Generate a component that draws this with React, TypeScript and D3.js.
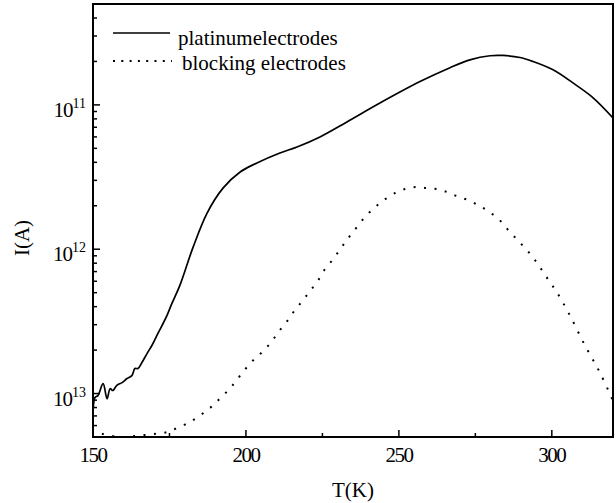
import React from "react";
import * as d3 from "d3";

const platinumT = [150, 150.65, 151.6, 153.3, 154.6, 155.6, 156.5, 157.8, 159.5, 161.1, 162.7, 163.7, 164.7, 166.0, 167.7, 169.3, 170.9, 172.6, 174.2, 175.8, 178.4, 182.7, 187.3, 192.5, 198.1, 203.6, 211.1, 216.7, 224.2, 233.0, 243.8, 256.9, 266.7, 273.2, 279.8, 284.0, 289.6, 293.8, 300.4, 306.9, 313.5, 320];
const platinumI = [7.03e-14, 9.38e-14, 9.68e-14, 1.17e-13, 9.2e-14, 1.08e-13, 1.05e-13, 1.14e-13, 1.19e-13, 1.27e-13, 1.33e-13, 1.49e-13, 1.49e-13, 1.64e-13, 1.9e-13, 2.16e-13, 2.53e-13, 2.97e-13, 3.48e-13, 4.21e-13, 5.62e-13, 1.03e-12, 1.78e-12, 2.65e-12, 3.43e-12, 3.96e-12, 4.64e-12, 5.11e-12, 6.0e-12, 7.62e-12, 1.03e-11, 1.45e-11, 1.81e-11, 2.05e-11, 2.19e-11, 2.2e-11, 2.13e-11, 2.0e-11, 1.75e-11, 1.42e-11, 1.12e-11, 8.12e-12];

const blockingT = [152.9, 157.8, 161.4, 164.7, 168.0, 170.9, 173.5, 175.5, 177.8, 180.7, 183.0, 186.3, 189.2, 191.8, 194.5, 197.1, 199.7, 202.6, 205.2, 208.2, 210.5, 213.4, 215.7, 218.3, 220.9, 223.6, 225.8, 228.5, 231.1, 233.4, 236.0, 238.9, 241.9, 245.1, 248.7, 252.0, 255.6, 258.9, 262.5, 265.7, 269.0, 272.6, 275.9, 279.1, 282.7, 285.7, 288.9, 291.9, 294.5, 296.8, 299.4, 301.7, 305.9, 310.8, 315.7, 320];
const blockingI = [5.27e-14, 5.02e-14, 5.02e-14, 5.11e-14, 5.19e-14, 5.27e-14, 5.36e-14, 5.53e-14, 5.81e-14, 6.19e-14, 6.6e-14, 7.38e-14, 8.26e-14, 9.38e-14, 1.07e-13, 1.25e-13, 1.47e-13, 1.72e-13, 1.93e-13, 2.26e-13, 2.65e-13, 3.16e-13, 3.71e-13, 4.35e-13, 5.11e-13, 6.09e-13, 7.26e-13, 8.53e-13, 1.02e-12, 1.19e-12, 1.4e-12, 1.67e-12, 1.93e-12, 2.19e-12, 2.45e-12, 2.61e-12, 2.7e-12, 2.65e-12, 2.61e-12, 2.49e-12, 2.33e-12, 2.19e-12, 2.02e-12, 1.84e-12, 1.61e-12, 1.36e-12, 1.15e-12, 9.84e-13, 8.39e-13, 7.15e-13, 5.9e-13, 5.02e-13, 3.48e-13, 2.16e-13, 1.4e-13, 8.93e-14];

const xTicks = [150, 200, 250, 300];
const xMinorTicks = [175, 225, 275];
const yTicks = [1e-11, 1e-12, 1e-13];
const yTickExponents = ["11", "12", "13"];
const legendLabels = ["platinumelectrodes", "blocking electrodes"];

const W = 616, H = 503;
const L = 93, R = 613, T = 4, B = 437;
const FONT = "Liberation Serif, serif";

export default function App() {
  const x = d3.scaleLinear().domain([150, 320]).range([L, R]);
  const y = d3.scaleLog().domain([5e-14, 5e-11]).range([B, T]);

  const line = d3
    .line<[number, number]>()
    .x((d) => x(d[0]))
    .y((d) => y(d[1]))
    .curve(d3.curveCatmullRom.alpha(0.5));

  const platData: [number, number][] = platinumT.map((t, i) => [t, platinumI[i]]);
  const blockData: [number, number][] = blockingT.map((t, i) => [t, blockingI[i]]);

  const yMinor: number[] = [];
  for (let e = -14; e <= -11; e++) {
    for (let m = 2; m <= 9; m++) {
      const v = m * Math.pow(10, e);
      if (v >= 5e-14 && v <= 5e-11) yMinor.push(v);
    }
  }

  const ts = { fontFamily: FONT };

  return (
    <svg width={W} height={H} style={{ position: "absolute", left: 0, top: 0 }}>
      <rect x={0} y={0} width={W} height={H} fill="#fff" />
      <defs>
        <clipPath id="plot">
          <rect x={L} y={T} width={R - L} height={B - T} />
        </clipPath>
      </defs>
      <g clipPath="url(#plot)" fill="none" stroke="#000">
        <path d={line(platData) || ""} strokeWidth={1.7} />
        <path d={line(blockData) || ""} strokeWidth={2} strokeDasharray="2 8.5" />
      </g>
      {xTicks.map((t) => (
        <g key={"xt" + t}>
          <line x1={x(t)} x2={x(t)} y1={B} y2={B - 7} stroke="#000" strokeWidth={1.5} />
          <text x={x(t)} y={462} textAnchor="middle" fontSize={21} letterSpacing={-1.5} style={ts}>
            {t}
          </text>
        </g>
      ))}
      {xMinorTicks.map((t) => (
        <line key={"xm" + t} x1={x(t)} x2={x(t)} y1={B} y2={B - 4} stroke="#000" strokeWidth={1.5} />
      ))}
      {yTicks.map((t, i) => (
        <g key={"yt" + i}>
          <line x1={L} x2={L + 7} y1={y(t)} y2={y(t)} stroke="#000" strokeWidth={1.5} />
          <text x={86} y={y(t) + 12} textAnchor="end" fontSize={21} style={ts}>
            <tspan letterSpacing={-1}>10</tspan>
            <tspan dy={-9} fontSize={14}>{yTickExponents[i]}</tspan>
          </text>
        </g>
      ))}
      {yMinor.map((v, i) => (
        <line key={"ym" + i} x1={L} x2={L + 4} y1={y(v)} y2={y(v)} stroke="#000" strokeWidth={1.5} />
      ))}
      <rect x={L} y={T} width={R - L} height={B - T} fill="none" stroke="#000" strokeWidth={2} />
      <text x={(L + R) / 2} y={497} textAnchor="middle" fontSize={21} style={ts}>T(K)</text>
      <text transform="translate(29,238) rotate(-90)" textAnchor="middle" fontSize={21} style={ts}>I(A)</text>
      <line x1={113} x2={170} y1={33} y2={33} stroke="#000" strokeWidth={1.7} />
      <text x={178} y={45} fontSize={21} style={ts}>{legendLabels[0]}</text>
      <line x1={113} x2={172} y1={61} y2={61} stroke="#000" strokeWidth={2} strokeDasharray="2 6.3" />
      <text x={182} y={70} fontSize={21} style={ts}>{legendLabels[1]}</text>
    </svg>
  );
}
